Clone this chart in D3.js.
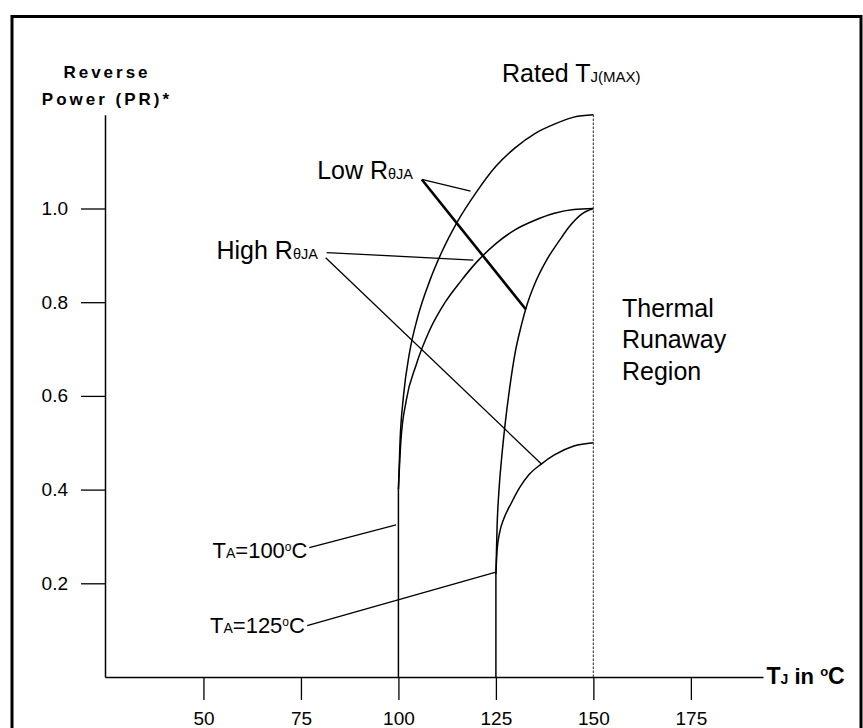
<!DOCTYPE html>
<html>
<head>
<meta charset="utf-8">
<script src="https://cdn.jsdelivr.net/npm/d3@7"></script>
<style>
  body { margin: 0; background: #fff; }
  svg { display: block; font-family: "Liberation Sans", Arial, sans-serif; }
</style>
</head>
<body>
<div id="chart"></div>
<script>
// axis ticks
const xTicks = [50, 75, 100, 125, 150, 175];
const yTicks = [0.2, 0.4, 0.6, 0.8, 1.0];

// curves, [TJ in °C, reverse power]
const lowR100 = [[100, 0.40], [100.4, 0.50], [101.3, 0.60], [102.8, 0.69], [105, 0.77], [108, 0.845],
  [111, 0.905], [115, 0.97], [120, 1.035], [125, 1.09], [130, 1.13], [135, 1.16], [140, 1.18],
  [145, 1.195], [150, 1.20]];
const highR100 = [[100, 0.40], [100.6, 0.50], [102, 0.59], [104.5, 0.665], [108, 0.74], [112, 0.80],
  [116, 0.845], [120, 0.885], [125, 0.925], [130, 0.955], [135, 0.975], [140, 0.99], [145, 0.998],
  [150, 1.0]];
const lowR125 = [[125, 0.22], [125.3, 0.32], [125.8, 0.40], [126.5, 0.47], [127.3, 0.535],
  [128.5, 0.615], [130, 0.695], [131.5, 0.75], [133, 0.795], [135, 0.84], [138, 0.89],
  [141.4, 0.933], [144, 0.963], [147, 0.988], [150, 1.0]];
const highR125 = [[125, 0.22], [125.3, 0.27], [126, 0.31], [127, 0.337], [129, 0.372], [131, 0.403],
  [133.5, 0.432], [136.7, 0.455], [140, 0.474], [145, 0.493], [150, 0.5]];

// vertical lines where each ambient starts, and the rated TJ(max) limit
const ambientLines = [[[100, 0], [100, 0.40]], [[125, 0], [125, 0.22]]];
const ratedLine = [[150, 0], [150, 1.2]];

// leader lines from the labels, [TJ, PR] endpoints
const thinLeaders = [
  [[106.0, 1.062], [118.5, 1.037]],
  [[81.6, 0.906], [119.2, 0.890]],
  [[81.35, 0.895], [136.75, 0.454]],
  [[77.15, 0.276], [99.4, 0.3245]],
  [[76.6, 0.1095], [124.77, 0.2235]]
];
const thickLeader = [[106.0, 1.062], [132.65, 0.785]];

const width = 863;
const height = 728;

const svg = d3.select("#chart")
  .append("svg")
  .attr("width", width)
  .attr("height", height);

svg.append("rect")
  .attr("width", width).attr("height", height)
  .attr("fill", "#fff");

// outer frame
svg.append("rect")
  .attr("x", 12).attr("y", 16.5)
  .attr("width", 849).attr("height", 800)
  .attr("fill", "none")
  .attr("stroke", "#000")
  .attr("stroke-width", 3);

const xScale = d3.scaleLinear().domain([24.75, 193.5]).range([105, 763]);
const yScale = d3.scaleLinear().domain([0, 1.2]).range([677, 114.8]);

const xAxis = d3.axisBottom(xScale)
  .tickValues(xTicks)
  .tickSize(23)
  .tickSizeOuter(0)
  .tickPadding(12)
  .tickFormat(d3.format("d"));

const yAxis = d3.axisLeft(yScale)
  .tickValues(yTicks)
  .tickSize(24)
  .tickSizeOuter(0)
  .tickPadding(13)
  .tickFormat(d3.format(".1f"));

const gx = svg.append("g").attr("transform", "translate(0,677)").call(xAxis);
const gy = svg.append("g").attr("transform", "translate(105,0)").call(yAxis);

[gx, gy].forEach(g => {
  g.attr("font-family", null).attr("font-size", null);
  g.select(".domain").attr("stroke-width", 1.5);
  g.selectAll(".tick line").attr("stroke-width", 1.3);
  g.selectAll(".tick text").style("font-size", "19px").attr("fill", "#000");
});

const line = d3.line()
  .x(d => xScale(d[0]))
  .y(d => yScale(d[1]));

const curve = d3.line()
  .x(d => xScale(d[0]))
  .y(d => yScale(d[1]))
  .curve(d3.curveMonotoneX);

// power curves
[lowR100, highR100, lowR125, highR125].forEach(c => {
  svg.append("path")
    .attr("d", curve(c))
    .attr("fill", "none")
    .attr("stroke", "#000")
    .attr("stroke-width", 1.5);
});

ambientLines.forEach(l => {
  svg.append("path")
    .attr("d", line(l))
    .attr("fill", "none")
    .attr("stroke", "#000")
    .attr("stroke-width", 1.5);
});

svg.append("path")
  .attr("d", line(ratedLine))
  .attr("fill", "none")
  .attr("stroke", "#444")
  .attr("stroke-width", 1.2)
  .attr("stroke-dasharray", "2.5,1.5");

thinLeaders.forEach(l => {
  svg.append("path")
    .attr("d", line(l))
    .attr("fill", "none")
    .attr("stroke", "#000")
    .attr("stroke-width", 1.3);
});

svg.append("path")
  .attr("d", line(thickLeader))
  .attr("fill", "none")
  .attr("stroke", "#000")
  .attr("stroke-width", 2.6);

// text helper: parts are [string, font size, dy, bold]
function addText(x, y, parts, anchor) {
  const t = svg.append("text")
    .attr("x", x).attr("y", y)
    .attr("text-anchor", anchor || "start")
    .attr("fill", "#000");
  parts.forEach(p => {
    t.append("tspan")
      .attr("dy", p[2] || 0)
      .style("font-size", p[1] + "px")
      .style("font-weight", p[3] ? "bold" : "normal")
      .text(p[0]);
  });
  return t;
}

// y-axis title
svg.append("text")
  .attr("x", 107).attr("y", 77.5)
  .attr("text-anchor", "middle")
  .style("font-size", "17px").style("font-weight", "bold")
  .style("letter-spacing", "3px")
  .text("Reverse");
svg.append("text")
  .attr("x", 107).attr("y", 104.5)
  .attr("text-anchor", "middle")
  .style("font-size", "17px").style("font-weight", "bold")
  .style("letter-spacing", "3px")
  .text("Power (PR)*");

// x-axis title
addText(766.5, 684.3, [["T", 23, 0, true], ["J", 14, 0, true], [" in ", 22, 0, true],
  ["o", 13, -8, true], ["C", 23, 8, true]]);

addText(502, 82, [["Rated T", 25], ["J(MAX)", 15]]);
addText(413, 179, [["Low R", 25], ["θJA", 14.5]], "end");
addText(216.5, 259.3, [["High R", 25], ["θJA", 14.5]]);

addText(212.5, 558.3, [["T", 22], ["A", 14], ["=100", 22], ["o", 12, -7], ["C", 22, 7]]);
addText(210, 633.3, [["T", 22], ["A", 14], ["=125", 22], ["o", 12, -7], ["C", 22, 7]]);

addText(622, 316.7, [["Thermal", 25]]);
addText(622, 348.3, [["Runaway", 25]]);
addText(622, 380, [["Region", 25]]);
</script>
</body>
</html>
